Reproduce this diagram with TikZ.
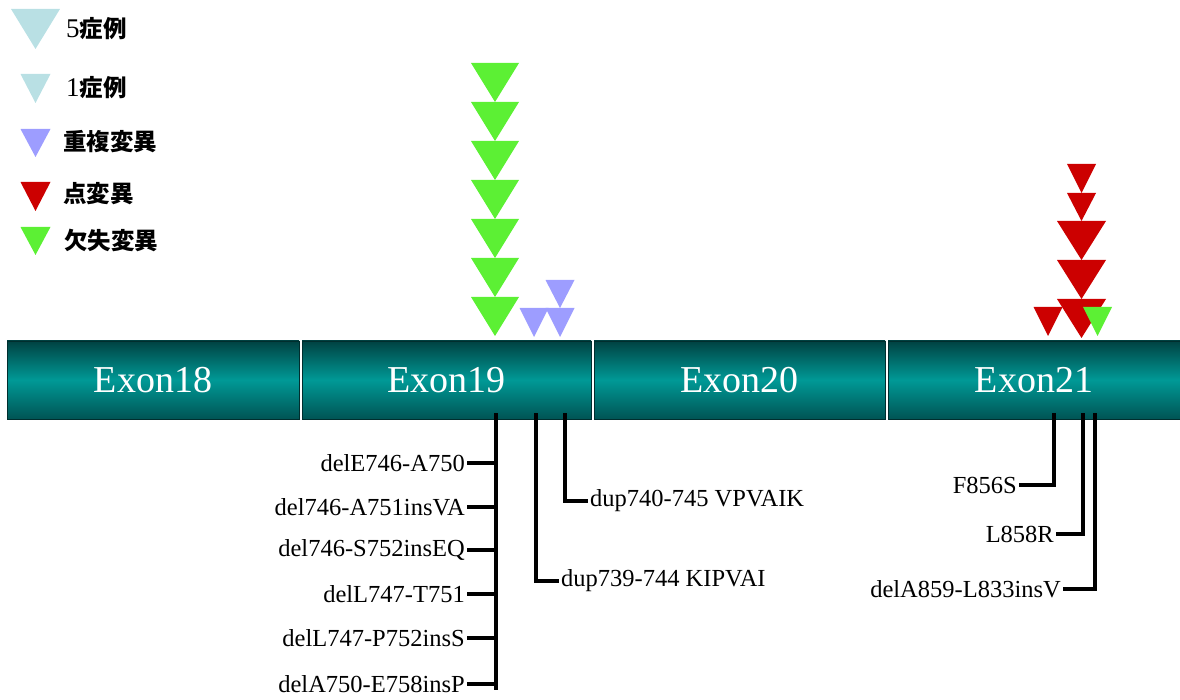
\documentclass[tikz,border=0pt]{standalone}
\usepackage{fontspec}
\setmainfont{Liberation Serif}
\newfontfamily\jpfont{Noto Sans CJK JP}
\usetikzlibrary{positioning}
\definecolor{casecol}{RGB}{185,224,228}
\definecolor{dupcol}{RGB}{157,157,255}
\definecolor{pointcol}{RGB}{204,0,0}
\definecolor{delcol}{RGB}{92,240,52}
\definecolor{exdark}{RGB}{0,66,66}
\definecolor{exmid}{RGB}{0,153,150}
\definecolor{exlow}{RGB}{0,84,84}
% downward triangle: centre x, top y, width, height, colour
\newcommand{\dtri}[5]{\fill[#5] (#1-#3/2,#2) -- (#1+#3/2,#2) -- (#1,#2+#4) -- cycle;}
\newcommand{\legnum}[1]{{\rmfamily\mdseries\fontsize{27}{27}\selectfont #1}}

\begin{document}
\begin{tikzpicture}[x=1pt,y=-1pt,
  exon/.style={top color=exdark,bottom color=exlow,middle color=exmid,
    draw=exdark!70!black,line width=0.8pt,minimum height=78pt,inner sep=0pt,
    text=white,font=\fontsize{38}{38}\selectfont},
  mut/.style={font=\fontsize{24.5}{24.5}\selectfont,inner sep=2pt},
  lead/.style={line width=3.2pt},
  legtxt/.style={font=\fontsize{23.5}{24}\selectfont\jpfont\bfseries,anchor=west,inner sep=0pt}]
\useasboundingbox (0,0) rectangle (1180,700);

% legend
\dtri{35.5}{9}{49}{40}{casecol}
\dtri{35.5}{74}{30}{29}{casecol}
\dtri{35.5}{129}{30}{28}{dupcol}
\dtri{35.5}{182}{30}{29}{pointcol}
\dtri{35.5}{227}{30}{28}{delcol}
\node[legtxt] (lg5) at (66,29) {\legnum{5}症例};
\node[legtxt] (lg1) at (66,88) {\legnum{1}症例};
\node[legtxt] (lgdup) at (63,142) {重複変異};
\node[legtxt] (lgpt) at (63,194) {点変異};
\node[legtxt] (lgdel) at (64,240) {欠失変異};

% exons
\node[exon,minimum width=292pt] (ex18) at (153,380) {Exon18};
\node[exon,minimum width=289pt] (ex19) at (446.5,380) {Exon19};
\node[exon,minimum width=291pt] (ex20) at (739.5,380) {Exon20};
\node[exon,minimum width=292pt] (ex21) at (1034,380) {Exon21};

% markers above exon 19
\foreach \t in {63,102,141,180,219,258,297} {\dtri{495}{\t}{48}{39}{delcol}}
\dtri{534}{308}{29}{29}{dupcol}
\dtri{560}{308}{29}{29}{dupcol}
\dtri{560}{280}{29}{28}{dupcol}

% markers above exon 21
\dtri{1081.5}{164}{29}{29}{pointcol}
\dtri{1081.5}{193}{29}{28}{pointcol}
\foreach \t in {221,260,299} {\dtri{1081.5}{\t}{49}{39}{pointcol}}
\dtri{1048}{307}{29}{29}{pointcol}
\dtri{1097.5}{307}{29}{29}{delcol}

% exon 19 deletions
\coordinate (d19) at (496,413);
\draw[lead] (d19) -- ++(0,277);
\foreach \lab/\yy [count=\i] in {delE746-A750/463,del746-A751insVA/507,
    del746-S752insEQ/550,delL747-T751/594,delL747-P752insS/638,delA750-E758insP/684}
  {\node[mut,anchor=east] (del\i) at (467,\yy) {\lab};
   \draw[lead] (del\i.east) -- (del\i.east -| d19);}

% exon 19 duplications
\coordinate (dp1) at (536,413);
\coordinate (dp2) at (565,413);
\node[mut,anchor=west] (dup1) at (559,581) {dup739-744 KIPVAI};
\node[mut,anchor=west] (dup2) at (588,501) {dup740-745 VPVAIK};
\draw[lead] (dp1) |- (dup1.west);
\draw[lead] (dp2) |- (dup2.west);

% exon 21
\coordinate (p1) at (1054,413);
\coordinate (p2) at (1083,413);
\coordinate (p3) at (1095,413);
\node[mut,anchor=east] (f856) at (1019,485) {F856S};
\node[mut,anchor=east] (l858) at (1056,534) {L858R};
\node[mut,anchor=east] (dela) at (1063,589) {delA859-L833insV};
\draw[lead] (p1) |- (f856.east);
\draw[lead] (p2) |- (l858.east);
\draw[lead] (p3) |- (dela.east);
\end{tikzpicture}
\end{document}
